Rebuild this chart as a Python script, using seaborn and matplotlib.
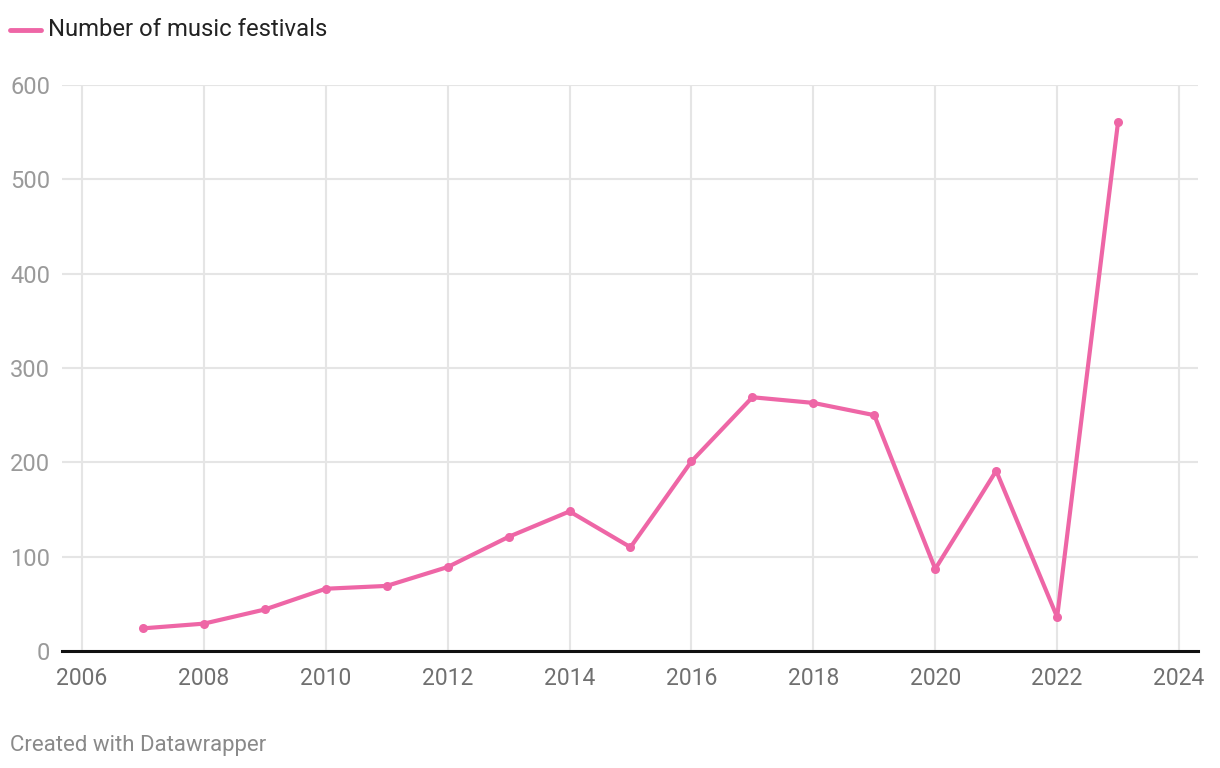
import matplotlib
matplotlib.use("Agg")
import matplotlib.pyplot as plt
import seaborn as sns
import pandas as pd

years = [2007, 2008, 2009, 2010, 2011, 2012, 2013, 2014, 2015, 2016, 2017, 2018, 2019, 2020, 2021, 2022, 2023]
festivals = [24, 29, 44, 66, 69, 89, 121, 148, 110, 201, 269, 263, 250, 87, 191, 36, 561]
x_ticks = [2006, 2008, 2010, 2012, 2014, 2016, 2018, 2020, 2022, 2024]
y_ticks = [0, 100, 200, 300, 400, 500, 600]
series_name = "Number of music festivals"

sns.set_theme(style="white")
plt.rcParams['font.family'] = ['Roboto', 'DejaVu Sans']

df = pd.DataFrame({"year": years, "value": festivals})
color = "#EE66A6"

fig = plt.figure(figsize=(12.2, 7.68), dpi=100)
ax = fig.add_axes([62/1220, 1-651/768, (1198-62)/1220, (651-85)/768])

sns.lineplot(data=df, x="year", y="value", ax=ax, color=color, linewidth=3,
             marker="o", markersize=6.5, markeredgewidth=0, zorder=5, clip_on=False)

ax.set_xlim(2006 - 20/61, 2024 + 19/61)
ax.set_ylim(0, 600)
ax.set_xticks(x_ticks)
ax.set_yticks(y_ticks)
ax.set_xticklabels([str(t) for t in x_ticks])
ax.set_yticklabels([str(t) for t in y_ticks])
ax.grid(True, color="#e5e5e5", linewidth=1.5)
ax.set_axisbelow(True)
for s in ["top", "right", "left"]:
    ax.spines[s].set_visible(False)
ax.spines["bottom"].set_color("#111111")
ax.spines["bottom"].set_linewidth(2.2)
ax.spines["bottom"].set_zorder(6)
ax.tick_params(axis="x", length=0, pad=11.5, labelsize=16.5, labelcolor="#707070")
ax.tick_params(axis="y", length=0, pad=8.5, labelsize=17, labelcolor="#9a9a9a")
ax.set_xlabel("")
ax.set_ylabel("")

# legend
fig.add_artist(plt.Line2D([10/1220, 41/1220], [1-30/768, 1-30/768], color=color, linewidth=3.5,
                          solid_capstyle="round", transform=fig.transFigure))
fig.text(48/1220, 1-30/768, series_name, fontsize=17.2, color="#222222", va="center", ha="left")

fig.text(10/1220, 1-745/768, "Created with Datawrapper", fontsize=16, color="#8a8a8a", va="center", ha="left")

fig.savefig("out.png", dpi=100)
